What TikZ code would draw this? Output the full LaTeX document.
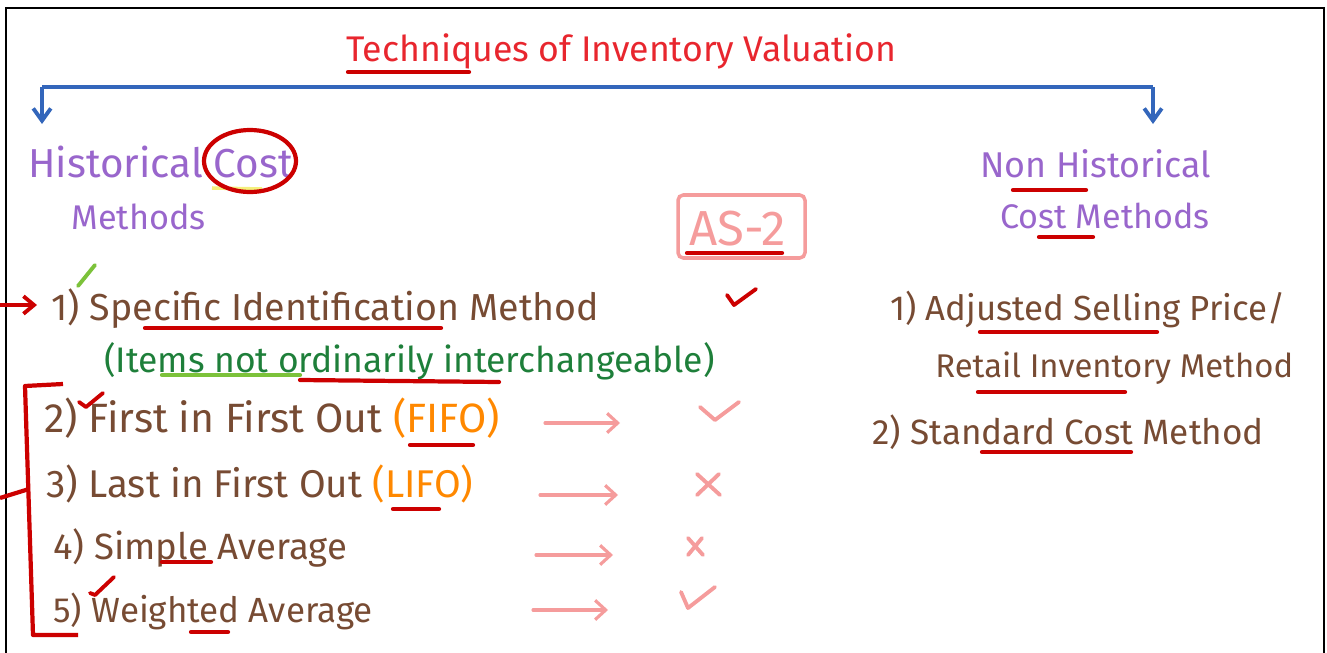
\documentclass[tikz,border=0pt]{standalone}
\usepackage{fontspec}
\setmainfont{Fira Sans}
\usetikzlibrary{arrows.meta}

\definecolor{titlered}{HTML}{E8262E}
\definecolor{markred}{HTML}{CC0000}
\definecolor{histpurple}{HTML}{9966CC}
\definecolor{itembrown}{HTML}{774B33}
\definecolor{notegreen}{HTML}{1E7F3A}
\definecolor{litegreen}{HTML}{7CC23A}
\definecolor{fifoorange}{HTML}{FF8800}
\definecolor{softpink}{HTML}{F59C9C}
\definecolor{branchblue}{HTML}{3366BB}
\definecolor{hiyellow}{HTML}{F4F07C}

\tikzset{
  hand/.style={inner sep=0pt, anchor=base west, font=\fontsize{#1}{#1}\selectfont},
  hand/.default=20,
  uline/.style={markred, line width=2.4pt, line cap=round},
  tickmark/.style={line width=2.2pt, line cap=round, line join=round},
  branch/.style={branchblue, line width=2.2pt, -{Straight Barb[length=7pt,width=10pt]}},
  pinkarrow/.style={softpink, line width=1.8pt, line cap=round, -{Straight Barb[length=6pt,width=11pt]}}
}

\begin{document}
\begin{tikzpicture}[x=0.02cm, y=-0.02cm]
\useasboundingbox (0,0) rectangle (1327,652);
% Frame
\draw[black, line width=1.2pt] (6,660) -- (6,8) -- (1324,8) -- (1324,660);

% Title
\node[hand=20.3, titlered] (title) at (346,62) {Techniques of Inventory Valuation};
\draw[uline] (348,72) -- (469,72);

% Branches
\coordinate (brl) at (42,87);
\coordinate (brr) at (1153,87);
\coordinate (hl) at (42,124);
\coordinate (hr) at (1153,124);
\draw[branchblue, line width=2.2pt] (brl) -- (brr);
\draw[branch] (brl) -- (hl);
\draw[branch] (brr) -- (hr);

% Historical cost methods
\node[hand=23, histpurple] (hist) at (28,177) {Historical Cost};
\node[hand=19.5, histpurple] (histm) at (71,229) {Methods};
\draw[hiyellow, line width=2pt] (212,188) -- (262,189);
\draw[markred, line width=2.4pt] (250,161) ellipse [x radius=46, y radius=31];

% Non historical cost methods
\node[hand=20.4, histpurple] (nonhist) at (980,177) {Non Historical};
\node[hand=19.4, histpurple] (nonhistm) at (1000,228) {Cost Methods};
\draw[uline] (1013,190) -- (1086,190);
\draw[uline] (1039,237) -- (1093,237);

% AS-2
\draw[softpink, line width=2pt, rounded corners=3pt] (678,195) rectangle (805,258);
\node[hand=28, softpink] (as) at (689,245) {AS-2};
\draw[uline] (687,253) -- (782,253);
\draw[markred, tickmark] (727,295) -- (734,305) -- (756,289);

% Historical items
\coordinate (arr) at (0,305);
\coordinate (one) at (37,305);
\draw[markred, line width=2.2pt, -{Straight Barb[length=6pt,width=10pt]}] (arr) -- (one);
\draw[litegreen, tickmark] (78,286) -- (95,265);
\node[hand=21.4, itembrown] (spec) at (51,320) {1) Specific Identification Method};
\draw[uline] (145,328) -- (441,328);
\node[hand=20.2, notegreen] (items) at (104,372) {(Items not ordinarily interchangeable)};
\draw[litegreen, line width=2.4pt, line cap=round] (162,375) -- (300,375);
\draw[uline] (300,380) -- (499,382);

% Bracket
\draw[markred, line width=2.4pt, line join=round] (63,384) -- (25,386) -- (33,635) -- (78,635);
\coordinate (brk) at (0,498);
\coordinate (brkend) at (29,489);
\draw[markred, line width=2.4pt] (brk) -- (brkend);

\node[hand=23.3, itembrown] (fifo) at (44,432) {2) First in First Out {\color{fifoorange}(FIFO)}};
\draw[markred, tickmark] (79,402) -- (86,407) -- (103,393);
\draw[uline] (410,445) -- (473,445);
\node[hand=22, itembrown] (lifo) at (46,497) {3) Last in First Out {\color{fifoorange}(LIFO)}};
\draw[uline] (393,509) -- (439,509);
\node[hand=20.8, itembrown] (simple) at (53,559) {4) Simple Average};
\draw[uline] (162,562) -- (211,562);
\node[hand=19.9, itembrown] (weighted) at (53,622) {5) Weighted Average};
\draw[markred, tickmark] (90,593) -- (95,595) -- (114,577);
\draw[uline] (191,632) -- (228,632);

% Arrows to AS-2 marks
\coordinate (a1) at (545,423); \coordinate (b1) at (620,423);
\coordinate (a2) at (540,495); \coordinate (b2) at (618,495);
\coordinate (a3) at (536,555); \coordinate (b3) at (613,555);
\coordinate (a4) at (533,610); \coordinate (b4) at (608,610);
\draw[pinkarrow] (a1) -- (b1);
\draw[pinkarrow] (a2) -- (b2);
\draw[pinkarrow] (a3) -- (b3);
\draw[pinkarrow] (a4) -- (b4);
\draw[softpink, tickmark] (700,407) -- (715,420) -- (739,402);
\draw[softpink, tickmark] (697,474) -- (720,495) (719,474) -- (697,495);
\draw[softpink, tickmark] (688,538) -- (703,555) (702,538) -- (688,555);
\draw[softpink, tickmark] (681,592) -- (688,608) -- (715,587);

% Non historical items
\node[hand=19.8, itembrown] (asp) at (890,320) {1) Adjusted Selling Price/};
\draw[uline] (980,332) -- (1157,332);
\node[hand=18.7, itembrown] (retail) at (935,377) {Retail Inventory Method};
\draw[uline] (978,392) -- (1125,392);
\node[hand=20, itembrown] (std) at (872,444) {2) Standard Cost Method};
\draw[uline] (982,452) -- (1131,452);

\end{tikzpicture}
\end{document}
